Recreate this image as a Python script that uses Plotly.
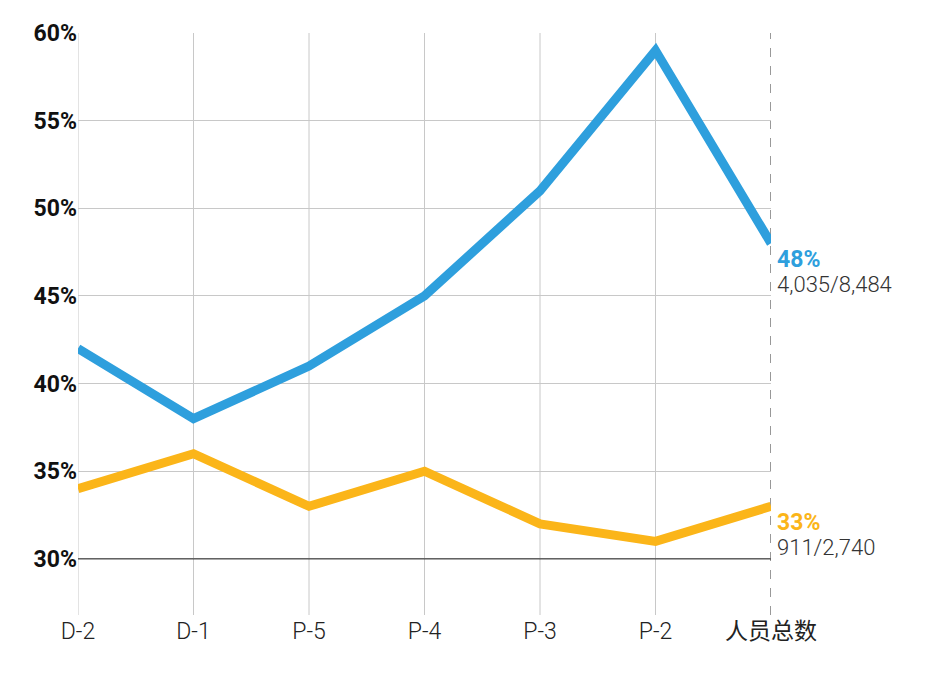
import plotly.graph_objects as go

categories = ["D-2", "D-1", "P-5", "P-4", "P-3", "P-2", "人员总数"]
blue_vals = [42, 38, 41, 45, 51, 59, 48]
orange_vals = [34, 36, 33, 35, 32, 31, 33]
y_ticks = [30, 35, 40, 45, 50, 55, 60]
blue_note = "4,035/8,484"
orange_note = "911/2,740"

BLUE = "#2e9fdd"
ORANGE = "#fbb519"
xs = list(range(len(categories)))

fig = go.Figure()
fig.add_shape(type="line", x0=0, x1=xs[-1], y0=30, y1=30, xref="x", yref="y",
              line=dict(color="#222", width=1), layer="above")
fig.add_trace(go.Scatter(x=xs, y=orange_vals, mode="lines", line=dict(color=ORANGE, width=9), hoverinfo="skip"))
fig.add_trace(go.Scatter(x=xs, y=blue_vals, mode="lines", line=dict(color=BLUE, width=9), hoverinfo="skip"))

fig.add_shape(type="line", x0=xs[-1], x1=xs[-1], y0=26.8, y1=60, xref="x", yref="y",
              line=dict(color="#555", width=1.2, dash="dash"), layer="below")

for val, note, col in [(blue_vals[-1], blue_note, BLUE), (orange_vals[-1], orange_note, ORANGE)]:
    fig.add_annotation(x=xs[-1], y=val, xref="x", yref="y", text=f"<b>{val}%</b>", showarrow=False,
                       xanchor="left", yanchor="top", xshift=4, yshift=-1,
                       font=dict(color=col, size=23, family="Roboto"))
    fig.add_annotation(x=xs[-1], y=val, xref="x", yref="y", text=note, showarrow=False,
                       xanchor="left", yanchor="top", xshift=4, yshift=-27,
                       font=dict(color="#333", size=22, family="Roboto Light, Roboto"))

fig.update_layout(
    width=930, height=690, plot_bgcolor="white", paper_bgcolor="white",
    margin=dict(l=70, r=167, t=19, b=83), showlegend=False,
    xaxis=dict(range=[0, xs[-1]], tickvals=xs, ticktext=categories,
               showgrid=False, zeroline=False, showline=False, ticks="",
               tickfont=dict(size=23, color="#222", family="Roboto Light, Roboto, Noto Sans CJK SC")),
    yaxis=dict(range=[26.8, 60], tickvals=y_ticks, ticktext=[f"<b>{v}%</b>" for v in y_ticks],
               showgrid=True, gridcolor="#c8c8c8", gridwidth=1, zeroline=False, ticks="",
               tickfont=dict(size=23, color="#111", family="Roboto")),
)
for x in xs[:-1]:
    fig.add_shape(type="line", x0=x, x1=x, y0=26.8, y1=60, xref="x", yref="y",
                  line=dict(color="#c8c8c8", width=1), layer="below")

fig.write_html("out.html")
